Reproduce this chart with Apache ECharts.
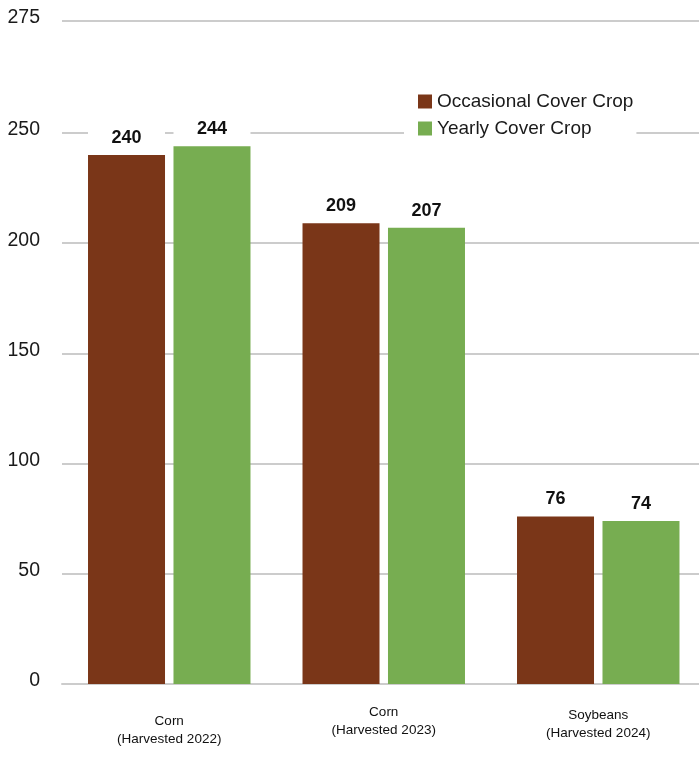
<!DOCTYPE html>
<html>
<head>
<meta charset="utf-8">
<script src="https://cdn.jsdelivr.net/npm/echarts@6/dist/echarts.min.js"></script>
<style>
  html, body { margin: 0; padding: 0; background: #fff; }
  #chart { width: 699px; height: 784px; }
</style>
</head>
<body>
<div id="chart"></div>
<script>
// Crop groups along the x axis
const categories = ['Corn\n(Harvested 2022)', 'Corn\n(Harvested 2023)', 'Soybeans\n(Harvested 2024)'];
// Yield per group
const occasionalValues = [240, 209, 76];
const yearlyValues = [244, 207, 74];
const seriesNames = ['Occasional Cover Crop', 'Yearly Cover Crop'];
// Value axis ticks and the text shown at each
const yTickValues = [0, 50, 100, 150, 200, 250, 301];
const yTickLabels = ['0', '50', '100', '150', '200', '250', '275'];

const BROWN = '#7a3618';
const GREEN = '#77ad51';
const GRID = '#cccccc';
const FONT = '"Liberation Sans", Arial, Helvetica, sans-serif';

// Per-category vertical nudges for the two-line axis labels
const catPadTop = [18, 9, 12];

const chart = echarts.init(document.getElementById('chart'), null, { renderer: 'canvas' });

const barLabel = {
  show: true,
  position: 'top',
  distance: 6,
  width: 77,
  align: 'center',
  padding: [2, 0, 2, 0],
  backgroundColor: '#ffffff',
  color: '#111',
  fontFamily: FONT,
  fontSize: 18,
  fontWeight: 'bold'
};

chart.setOption({
  animation: false,
  backgroundColor: '#ffffff',
  grid: { left: 62, top: 20.5, width: 643.5, bottom: 100, containLabel: false, outerBoundsMode: 'none' },
  legend: {
    data: seriesNames,
    orient: 'vertical',
    left: 404,
    top: 79,
    padding: [13, 3, 10, 14],
    backgroundColor: '#ffffff',
    itemWidth: 14,
    itemHeight: 14,
    itemGap: 8,
    icon: 'rect',
    textStyle: { fontFamily: FONT, fontSize: 19, color: '#1a1a1a' }
  },
  xAxis: {
    type: 'category',
    data: categories.map((c, i) => ({ value: c, textStyle: { padding: [catPadTop[i], 0, 0, 0] } })),
    axisLine: { show: true, lineStyle: { color: GRID, width: 2 } },
    axisTick: { show: false },
    axisLabel: {
      interval: 0,
      margin: 10,
      fontFamily: FONT,
      fontSize: 13.5,
      lineHeight: 18.5,
      color: '#111',
      align: 'center'
    }
  },
  yAxis: {
    type: 'value',
    min: 0,
    max: 301,
    axisLine: { show: false },
    axisTick: { show: false, customValues: yTickValues },
    splitLine: { show: true, lineStyle: { color: GRID, width: 2 } },
    axisLabel: {
      customValues: yTickValues,
      formatter: v => yTickLabels[yTickValues.indexOf(v)],
      margin: 22,
      verticalAlign: 'bottom',
      lineHeight: 6,
      fontFamily: FONT,
      fontSize: 19.5,
      color: '#1a1a1a'
    }
  },
  series: [
    {
      name: seriesNames[0],
      type: 'bar',
      data: occasionalValues,
      barWidth: 77,
      barGap: '11%',
      itemStyle: { color: BROWN },
      label: barLabel
    },
    {
      name: seriesNames[1],
      type: 'bar',
      data: yearlyValues,
      barWidth: 77,
      barGap: '11%',
      itemStyle: { color: GREEN },
      label: barLabel
    }
  ]
});
</script>
</body>
</html>
